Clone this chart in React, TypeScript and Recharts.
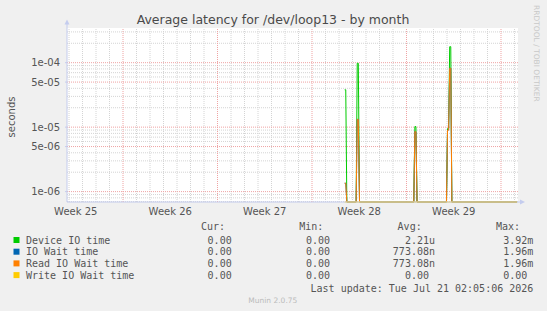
import { LineChart, Line, XAxis, YAxis, CartesianGrid, ReferenceLine } from 'recharts';

// x is counted in days from the Monday that opens week 25
const days = [23.42, 23.5, 23.58, 24.27, 24.35, 24.43, 24.52, 28.54, 28.62, 28.7, 28.78, 30.96, 31.04, 31.12, 31.2, 31.28, 31.36, 36.19];
const deviceIO = [3.8e-5, 3.8e-5, 0, 0, 9.8e-5, 9.8e-5, 0, 0, 1.02e-5, 1.02e-5, 0, 0, 9.5e-6, 9.5e-6, 1.77e-4, 1.77e-4, 0, 0];
const ioWait = [1.35e-6, 1.35e-6, 0, 0, 1.32e-5, 1.32e-5, 0, 0, 8.5e-6, 8.5e-6, 0, 0, 9e-6, 9e-6, 8.2e-5, 8.2e-5, 0, 0];
const readIO = [1.35e-6, 1.35e-6, 0, 0, 1.32e-5, 1.32e-5, 0, 0, 8.5e-6, 8.5e-6, 0, 0, 9e-6, 9e-6, 8.2e-5, 8.2e-5, 0, 0];
const writeIO = [0, 0, 0, 0, 0, 0, 0, 0, 0, 0, 0, 0, 0, 0, 0, 0, 0, 0];

const weekLabels = ['Week 25', 'Week 26', 'Week 27', 'Week 28', 'Week 29'];
const weekMid = [3.5, 10.5, 17.5, 24.5, 31.5];
const weekStarts = [7, 14, 21, 28, 35];
const yTicks = [1e-6, 5e-6, 1e-5, 5e-5, 1e-4];

const seriesNames = ['Device IO time', 'IO Wait time', 'Read IO Wait time', 'Write IO Wait time'];
const seriesColors = ['#00CC00', '#0066B3', '#FF8000', '#FFCC00'];
const curVals = ['0.00', '0.00', '0.00', '0.00'];
const minVals = ['0.00', '0.00', '0.00', '0.00'];
const avgVals = ['2.21u', '773.08n', '773.08n', '0.00 '];
const maxVals = ['3.92m', '1.96m', '1.96m', '0.00 '];

const X_DOMAIN = [2.85, 36.26];
const Y_DOMAIN = [6.9e-7, 3.45e-4];

const GRID = '#D4D4D4';
const MGRID = '#EFA3A3';
const AXIS = '#C4CCEE';
const TXT = '#555';
const SANS = 'DejaVu Sans, sans-serif';
const MONO = 'DejaVu Sans Mono, monospace';

// rrdtool puts zero at the bottom of a log graph
const floor = (v: number) => Math.max(v, Y_DOMAIN[0]);

const rows = days.map((d, i) => ({
  day: d,
  device: floor(deviceIO[i]),
  wait: floor(ioWait[i]),
  read: floor(readIO[i]),
  write: floor(writeIO[i]),
}));

const fmtExp = (v: number) => {
  const [m, e] = v.toExponential(0).split('e');
  return `${m}e${e[0]}${e.slice(1).padStart(2, '0')}`;
};

const minorY: number[] = [];
for (let p = -7; p <= -4; p++) {
  for (let m = 1; m <= 9; m++) {
    const v = Number((m * Math.pow(10, p)).toPrecision(3));
    if (v > Y_DOMAIN[0] && v < Y_DOMAIN[1] && !yTicks.includes(v)) minorY.push(v);
  }
}
const dayLines: number[] = [];
for (let d = Math.ceil(X_DOMAIN[0]); d < X_DOMAIN[1]; d++) {
  if (!weekStarts.includes(d)) dayLines.push(d);
}

export default function App() {
  const rowY = (i: number) => 240 + i * 11.7;
  return (
    <div style={{ position: 'fixed', left: 0, top: 0, width: 547, height: 311, background: '#F0F0F0' }}>
      <LineChart width={547} height={311} data={rows} margin={{ top: 28, right: 29, bottom: 89, left: 0 }}>
        <CartesianGrid horizontal={false} vertical={false} fill="#FFFFFF" />
        {minorY.map((v) => (
          <ReferenceLine key={`my${v}`} y={v} stroke={GRID} strokeDasharray="1 1" />
        ))}
        {dayLines.map((d) => (
          <ReferenceLine key={`dx${d}`} x={d} stroke={GRID} strokeDasharray="1 1" />
        ))}
        {yTicks.map((v) => (
          <ReferenceLine key={`My${v}`} y={v} stroke={MGRID} strokeDasharray="1 1" />
        ))}
        {weekStarts.map((d) => (
          <ReferenceLine key={`wx${d}`} x={d} stroke={MGRID} strokeDasharray="1 1" />
        ))}
        <XAxis
          dataKey="day"
          type="number"
          domain={X_DOMAIN}
          ticks={weekMid}
          tickFormatter={(v) => weekLabels[weekMid.indexOf(v)]}
          height={20}
          tickSize={2}
          tickMargin={4}
          tickLine={false}
          axisLine={{ stroke: AXIS }}
          tick={{ fontSize: 10, fill: TXT, fontFamily: SANS }}
        />
        <YAxis
          type="number"
          scale="log"
          domain={Y_DOMAIN}
          ticks={yTicks}
          tickFormatter={fmtExp}
          width={67}
          tickSize={2}
          tickMargin={5}
          tickLine={{ stroke: AXIS }}
          axisLine={{ stroke: AXIS }}
          tick={{ fontSize: 10, fill: TXT, fontFamily: SANS }}
        />
        <Line dataKey="device" type="linear" stroke={seriesColors[0]} strokeWidth={1} dot={false} isAnimationActive={false} />
        <Line dataKey="wait" type="linear" stroke={seriesColors[1]} strokeWidth={1} dot={false} isAnimationActive={false} />
        <Line dataKey="read" type="linear" stroke={seriesColors[2]} strokeWidth={1} dot={false} isAnimationActive={false} />
        <Line dataKey="write" type="linear" stroke={seriesColors[3]} strokeWidth={1} dot={false} isAnimationActive={false} />
      </LineChart>

      <svg width={547} height={311} style={{ position: 'absolute', left: 0, top: 0, pointerEvents: 'none' }}>
        <text x={273} y={23.5} textAnchor="middle" fontSize={12.5} fill="#4a4a4a" fontFamily={SANS}>
          Average latency for /dev/loop13 - by month
        </text>
        <text transform="translate(14.5,117) rotate(-90)" textAnchor="middle" fontSize={10} fill={TXT} fontFamily={SANS}>
          seconds
        </text>
        <text transform="translate(534,5) rotate(90)" fontSize={7.5} fill="#C8C8C8" fontFamily={SANS}>
          RRDTOOL / TOBI OETIKER
        </text>

        {/* axis arrows */}
        <line x1={67} y1={28} x2={67} y2={22} stroke={AXIS} />
        <polygon points="67,19.5 64.5,24.5 69.5,24.5" fill={AXIS} />
        <line x1={518} y1={202} x2={521} y2={202} stroke={AXIS} />
        <polygon points="525,202 520,199.5 520,204.5" fill={AXIS} />

        <g fontFamily={MONO} fontSize={10} fill={TXT} style={{ whiteSpace: 'pre' }}>
          <text x={225} y={230.2} textAnchor="end">Cur:</text>
          <text x={323.3} y={230.2} textAnchor="end">Min:</text>
          <text x={421.7} y={230.2} textAnchor="end">Avg:</text>
          <text x={520} y={230.2} textAnchor="end">Max:</text>
          {seriesNames.map((name, i) => (
            <g key={name}>
              <rect x={13.5} y={rowY(i) - 3} width={6} height={6} fill={seriesColors[i]} />
              <text x={26} y={rowY(i) + 3.5}>{name}</text>
              <text x={231.7} y={rowY(i) + 3.5} textAnchor="end">{curVals[i]}</text>
              <text x={330} y={rowY(i) + 3.5} textAnchor="end">{minVals[i]}</text>
              <text x={435} y={rowY(i) + 3.5} textAnchor="end" xmlSpace="preserve">{avgVals[i]}</text>
              <text x={533.3} y={rowY(i) + 3.5} textAnchor="end" xmlSpace="preserve">{maxVals[i]}</text>
            </g>
          ))}
          <text x={533.3} y={291.8} textAnchor="end">Last update: Tue Jul 21 02:05:06 2026</text>
        </g>
        <text x={272.8} y={303.2} textAnchor="middle" fontSize={7.5} fill="#BBBBBB" fontFamily={SANS}>
          Munin 2.0.75
        </text>
      </svg>
    </div>
  );
}
